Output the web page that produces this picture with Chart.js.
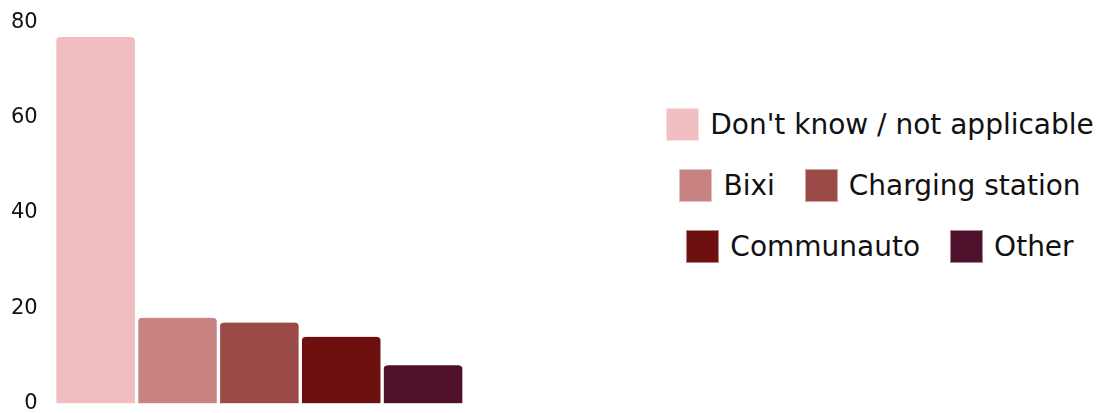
<!DOCTYPE html>
<html>
<head>
<meta charset="utf-8">
<script src="https://cdn.jsdelivr.net/npm/chart.js@4.4.1/dist/chart.umd.min.js"></script>
<style>
  body { margin: 0; background: #fff; overflow: hidden; }
  #wrap { position: relative; width: 1099px; height: 413px; overflow: hidden; }
  #graf { position: absolute; left: -18px; top: -7px; width: 484px; height: 440px; }
  #legenda { position: absolute; left: 640px; top: 94px; width: 480px; }
  .linha { display: flex; justify-content: center; align-items: center; height: 61px; }
  .item { display: flex; align-items: center; margin: 0 15px; font-family: "DejaVu Sans", sans-serif; font-size: 28px; color: #111; white-space: nowrap; }
  .caixa { width: 33px; height: 33px; margin-right: 11px; box-sizing: border-box; border: 1px solid rgba(255,255,255,0.5); }
</style>
</head>
<body>
<div id="wrap">
  <div id="graf"><canvas id="myChart"></canvas></div>
  <div id="legenda"></div>
</div>
<script>
const categorias = ["Don't know / not applicable", "Bixi", "Charging station", "Communauto", "Other"];
const valores = [77, 18, 17, 14, 8];
const cores = ["#f0bec0", "#c88280", "#9b4b47", "#6e1010", "#4e102a"];
const ticksY = [0, 20, 40, 60, 80];

// uma barra por dataset, todas na mesma categoria
const datasets = categorias.map((nome, i) => ({
  label: nome,
  data: [valores[i]],
  backgroundColor: cores[i],
  borderColor: "#ffffff",
  borderWidth: { left: 2, right: 2, top: 0, bottom: 0 },
  borderRadius: { topLeft: 6, topRight: 6 },
}));

const ctx = document.getElementById("myChart").getContext("2d");
const myChart = new Chart(ctx, {
  type: "bar",
  data: { labels: [""], datasets: datasets },
  options: {
    responsive: true,
    maintainAspectRatio: false,
    animation: false,
    categoryPercentage: 1,
    barPercentage: 1,
    layout: { padding: { left: 12, top: 2, right: 2, bottom: 0 } },
    plugins: {
      legend: { display: false },
      tooltip: { enabled: false },
    },
    scales: {
      x: { display: false },
      y: {
        min: 0,
        max: 80,
        afterBuildTicks: (axis) => { axis.ticks = ticksY.map(v => ({ value: v })); },
        grid: { display: false, drawTicks: false, tickLength: 0 },
        border: { display: false },
        ticks: {
          color: "#111",
          padding: 17,
          font: { family: "DejaVu Sans", size: 21, lineHeight: 1.2 },
        },
      },
    },
  },
});

// legenda em html, montada a partir dos datasets do gráfico
const linhas = [[0], [1, 2], [3, 4]];
const leg = document.getElementById("legenda");
linhas.forEach(idx => {
  const linha = document.createElement("div");
  linha.className = "linha";
  idx.forEach(i => {
    const ds = myChart.data.datasets[i];
    const item = document.createElement("div");
    item.className = "item";
    const caixa = document.createElement("span");
    caixa.className = "caixa";
    caixa.style.background = ds.backgroundColor;
    const txt = document.createElement("span");
    txt.textContent = ds.label;
    item.appendChild(caixa);
    item.appendChild(txt);
    linha.appendChild(item);
  });
  leg.appendChild(linha);
});
</script>
</body>
</html>
